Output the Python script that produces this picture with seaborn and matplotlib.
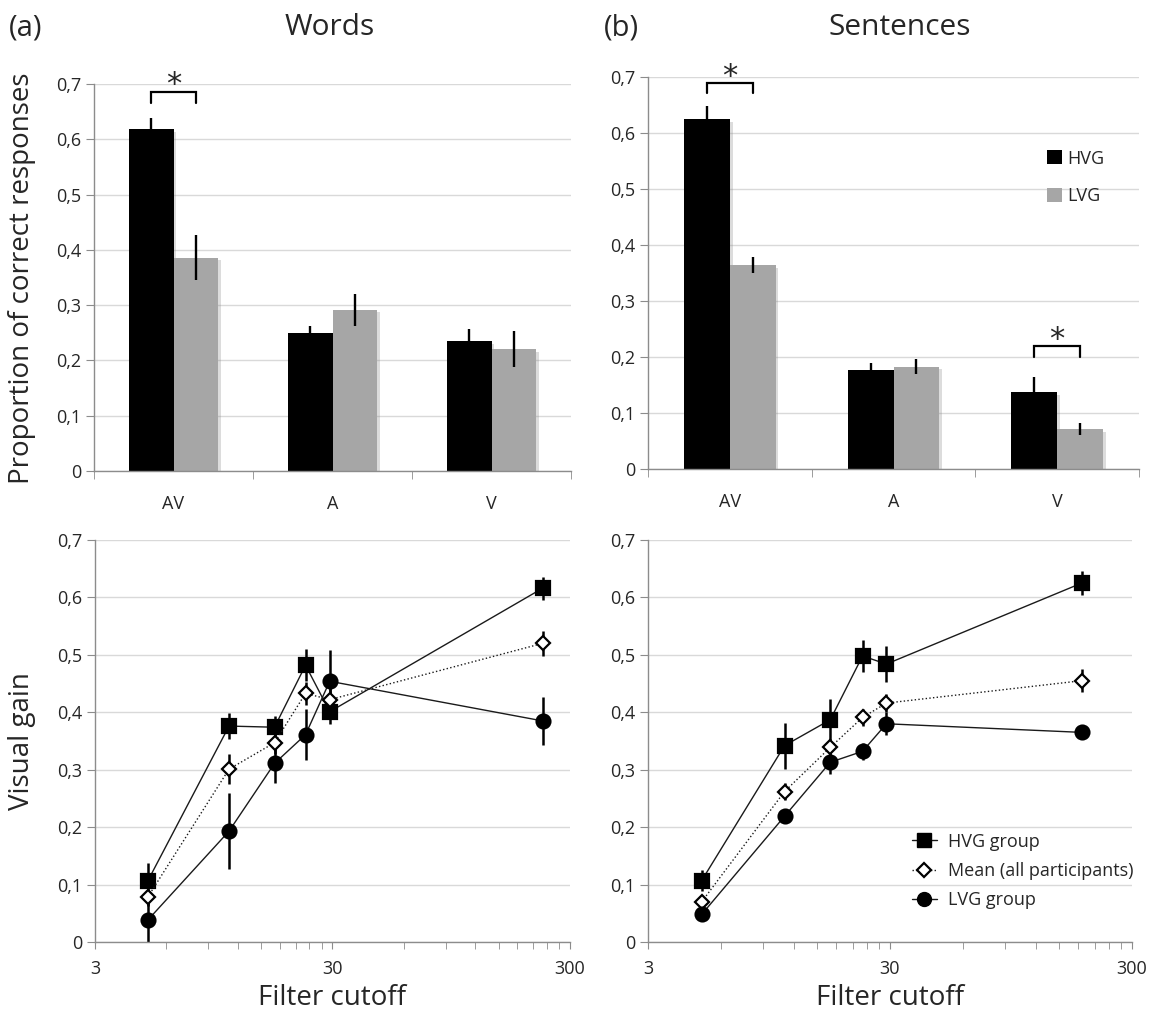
import numpy as np
import pandas as pd
import matplotlib
matplotlib.use("Agg")
import matplotlib.pyplot as plt
import matplotlib.patheffects as pe
from matplotlib.lines import Line2D
from matplotlib.patches import Patch
from matplotlib.ticker import FixedLocator, FuncFormatter, NullFormatter
import seaborn as sns

# ---------------- data ----------------
conditions = ["AV", "A", "V"]
groups = ["HVG", "LVG"]

words_hvg = [0.618, 0.250, 0.235]
words_hvg_err = [0.020, 0.013, 0.022]
words_lvg = [0.386, 0.292, 0.221]
words_lvg_err = [0.041, 0.029, 0.032]

sent_hvg = [0.625, 0.177, 0.137]
sent_hvg_err = [0.023, 0.012, 0.027]
sent_lvg = [0.364, 0.183, 0.071]
sent_lvg_err = [0.014, 0.013, 0.011]

cutoff_words = [5.0, 11.0, 17.1, 23.1, 29.2, 230.0]
cutoff_sent = [5.0, 11.0, 17.0, 23.1, 29.0, 186.0]

words_gain_hvg = [0.106, 0.376, 0.374, 0.482, 0.401, 0.616]
words_gain_hvg_err = [0.032, 0.023, 0.020, 0.028, 0.022, 0.020]
words_gain_mean = [0.078, 0.301, 0.347, 0.433, 0.422, 0.520]
words_gain_mean_err = [0.015, 0.026, 0.020, 0.020, 0.020, 0.022]
words_gain_lvg = [0.038, 0.193, 0.311, 0.361, 0.454, 0.385]
words_gain_lvg_err = [0.038, 0.066, 0.035, 0.044, 0.055, 0.042]

sent_gain_hvg = [0.107, 0.342, 0.387, 0.498, 0.484, 0.625]
sent_gain_hvg_err = [0.018, 0.040, 0.036, 0.028, 0.032, 0.021]
sent_gain_mean = [0.070, 0.262, 0.339, 0.391, 0.416, 0.455]
sent_gain_mean_err = [0.012, 0.015, 0.015, 0.015, 0.015, 0.020]
sent_gain_lvg = [0.048, 0.219, 0.313, 0.332, 0.380, 0.365]
sent_gain_lvg_err = [0.010, 0.012, 0.020, 0.015, 0.020, 0.012]

ytick_vals = [0, 0.1, 0.2, 0.3, 0.4, 0.5, 0.6, 0.7]
xtick_vals = [3, 30, 300]
xtick_labels = ["3", "30", "300"]

# ---------------- style ----------------
sns.set_style("white")
plt.rcParams["font.family"] = ["Open Sans", "DejaVu Sans"]

W, H = 1151, 1013
fig = plt.figure(figsize=(W / 100, H / 100), dpi=100)

def box(l, t, r, b):
    return [l / W, 1 - b / H, (r - l) / W, (b - t) / H]

ax_a = fig.add_axes(box(94, 84, 571, 471))
ax_b = fig.add_axes(box(648, 77, 1139, 469))
ax_c = fig.add_axes(box(95, 540, 570, 942))
ax_d = fig.add_axes(box(648, 540, 1132, 942))

SPINE = "#8c8c8c"
GRID = "#d9d9d9"
comma_fmt = FuncFormatter(lambda v, p: "0" if abs(v) < 1e-9 else f"{v:.1f}".replace(".", ","))


def common_axis(ax):
    ax.set_ylim(0, 0.7)
    ax.set_yticks(ytick_vals)
    ax.yaxis.set_major_formatter(comma_fmt)
    ax.yaxis.grid(True, color=GRID, lw=1)
    ax.set_axisbelow(True)
    for s in ["top", "right"]:
        ax.spines[s].set_visible(False)
    for s in ["left", "bottom"]:
        ax.spines[s].set_color(SPINE)
        ax.spines[s].set_linewidth(1)
    ax.tick_params(axis="y", which="both", direction="out", length=6, color=SPINE,
                   labelsize=13, left=True, pad=3)
    ax.set_xlabel("")
    ax.set_ylabel("")


def bar_panel(ax, hvg, hvg_err, lvg, lvg_err):
    df = pd.DataFrame({
        "cond": conditions * 2,
        "group": [groups[0]] * len(conditions) + [groups[1]] * len(conditions),
        "value": hvg + lvg,
    })
    sns.barplot(data=df, x="cond", y="value", hue="group", order=conditions,
                hue_order=groups, palette={"HVG": "black", "LVG": "#a6a6a6"},
                width=0.56, errorbar=None, saturation=1, legend=False, ax=ax)
    centers = []
    for cont, errs in zip(ax.containers, [hvg_err, lvg_err]):
        xs = [b.get_x() + b.get_width() / 2 for b in cont]
        hs = [b.get_height() for b in cont]
        for b in cont:
            b.set_edgecolor("none")
            b.set_path_effects([pe.SimplePatchShadow(offset=(2, -2), shadow_rgbFace=(0.55, 0.55, 0.55), alpha=0.3),
                                pe.Normal()])
        ax.errorbar(xs, hs, yerr=errs, fmt="none", ecolor="black", elinewidth=1.7,
                    capsize=0, zorder=4)
        centers.append(xs)
    common_axis(ax)
    ax.set_xlim(-0.5, len(conditions) - 0.5)
    ax.xaxis.set_minor_locator(FixedLocator(np.arange(-0.5, len(conditions), 1.0)))
    ax.tick_params(axis="x", which="major", length=0, labelsize=13, pad=17)
    ax.tick_params(axis="x", which="minor", direction="out", length=6, color=SPINE, bottom=True)
    return centers


def bracket(ax, x0, x1, ytop, ybot):
    ax.plot([x0, x0, x1, x1], [ybot, ytop, ytop, ybot], color="black", lw=1.6,
            clip_on=False, solid_joinstyle="miter", zorder=5)
    ax.annotate("*", xy=((x0 + x1) / 2, ytop), xytext=(0, -5.5), textcoords="offset points",
                ha="center", va="bottom", fontsize=22, family="DejaVu Sans",
                annotation_clip=False)


c_a = bar_panel(ax_a, words_hvg, words_hvg_err, words_lvg, words_lvg_err)
c_b = bar_panel(ax_b, sent_hvg, sent_hvg_err, sent_lvg, sent_lvg_err)

bracket(ax_a, c_a[0][0], c_a[1][0], 0.686, 0.666)
bracket(ax_b, c_b[0][0], c_b[1][0], 0.689, 0.671)
bracket(ax_b, c_b[0][2], c_b[1][2], 0.219, 0.200)

ax_b.legend(handles=[Patch(facecolor="black", edgecolor="none"),
                     Patch(facecolor="#a6a6a6", edgecolor="none")],
            labels=["HVG", "LVG"], loc="upper left", bbox_to_anchor=(0.813, 0.815),
            frameon=False, fontsize=13, handlelength=0.8, handleheight=0.8,
            handletextpad=0.3, labelspacing=1.1, borderpad=0, borderaxespad=0)


def line_panel(ax, x, hvg, hvg_e, mean, mean_e, lvg, lvg_e):
    series = [
        (hvg, hvg_e, dict(marker="s", markersize=9.5, markerfacecolor="black", linestyle="-")),
        (mean, mean_e, dict(marker="D", markersize=7.2, markerfacecolor="white", linestyle=":")),
        (lvg, lvg_e, dict(marker="o", markersize=10, markerfacecolor="black", linestyle="-")),
    ]
    for vals, errs, kw in series:
        ax.errorbar(x, vals, yerr=errs, fmt="none", ecolor="black", elinewidth=1.8,
                    capsize=0, zorder=2)
        sns.lineplot(x=x, y=vals, ax=ax, color="#1a1a1a", linewidth=1.0,
                     markeredgecolor="black", markeredgewidth=1.6, zorder=3,
                     sort=False, **kw)
    common_axis(ax)
    ax.set_xscale("log")
    ax.set_xlim(3, 300)
    ax.set_xticks(xtick_vals)
    ax.set_xticklabels(xtick_labels)
    minors = [3 * k * 10 ** n for n in range(2) for k in range(2, 10)]
    ax.xaxis.set_minor_locator(FixedLocator(minors))
    ax.xaxis.set_minor_formatter(NullFormatter())
    ax.tick_params(axis="x", which="both", direction="out", length=5, color=SPINE,
                   bottom=True, labelsize=13, pad=8)


line_panel(ax_c, cutoff_words, words_gain_hvg, words_gain_hvg_err, words_gain_mean,
           words_gain_mean_err, words_gain_lvg, words_gain_lvg_err)
line_panel(ax_d, cutoff_sent, sent_gain_hvg, sent_gain_hvg_err, sent_gain_mean,
           sent_gain_mean_err, sent_gain_lvg, sent_gain_lvg_err)

leg_handles = [
    Line2D([], [], color="#1a1a1a", lw=1, marker="s", markersize=9.5, markerfacecolor="black", markeredgecolor="black"),
    Line2D([], [], color="#1a1a1a", lw=1, ls=":", marker="D", markersize=7.2, markerfacecolor="white",
           markeredgecolor="black", markeredgewidth=1.6),
    Line2D([], [], color="#1a1a1a", lw=1, marker="o", markersize=10, markerfacecolor="black", markeredgecolor="black"),
]
ax_d.legend(handles=leg_handles, labels=["HVG group", "Mean (all participants)", "LVG group"],
            loc="upper left", bbox_to_anchor=(0.545, 0.272), frameon=False, fontsize=13,
            handlelength=1.4, handletextpad=0.6, labelspacing=0.62, borderpad=0, borderaxespad=0)

# ---------------- text ----------------
fig.text(9 / W, 1 - 35 / H, "(a)", fontsize=21, ha="left", va="baseline")
fig.text(604 / W, 1 - 35 / H, "(b)", fontsize=21, ha="left", va="baseline")
fig.text(330 / W, 1 - 35 / H, "Words", fontsize=21.5, ha="center", va="baseline")
fig.text(900 / W, 1 - 35 / H, "Sentences", fontsize=21.5, ha="center", va="baseline")
fig.text(22 / W, 1 - 278 / H, "Proportion of correct responses", fontsize=20,
         rotation=90, ha="center", va="center")
fig.text(22 / W, 1 - 741 / H, "Visual gain", fontsize=20, rotation=90, ha="center", va="center")
fig.text(332 / W, 1 - 998 / H, "Filter cutoff", fontsize=20, ha="center", va="center")
fig.text(890 / W, 1 - 998 / H, "Filter cutoff", fontsize=20, ha="center", va="center")

fig.savefig("out.png", dpi=100, facecolor="white")
